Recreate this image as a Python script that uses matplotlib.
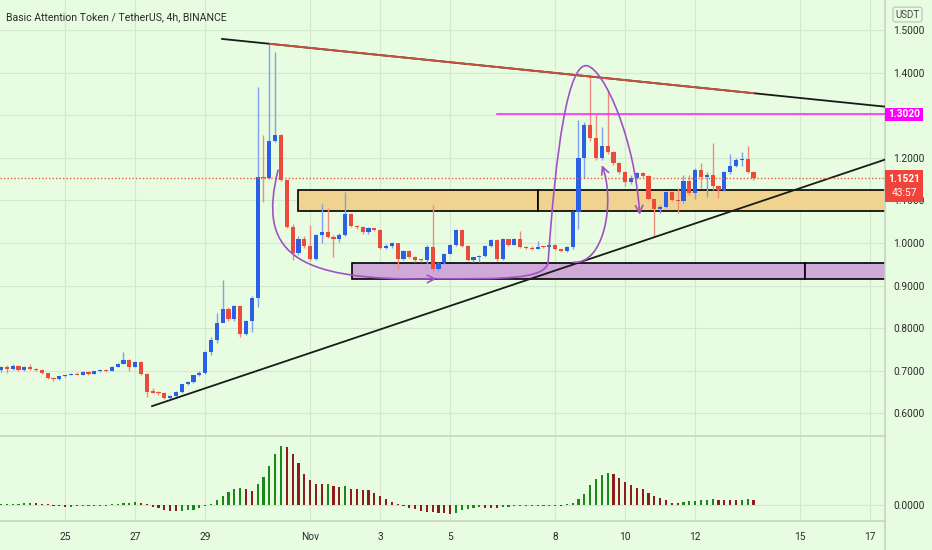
import numpy as np
import pandas as pd
import matplotlib
matplotlib.use('Agg')
import matplotlib.pyplot as plt
import matplotlib.dates as mdates
import matplotlib.transforms as mtrans
from matplotlib.patches import Rectangle, FancyArrowPatch
from matplotlib.path import Path
from matplotlib.lines import Line2D
from matplotlib.ticker import FormatStrFormatter, FuncFormatter

### DATA ######################################################################

title = 'Basic Attention Token / TetherUS, 4h, BINANCE'
start = '2021-10-23 04:00'
first_open = 0.701

closes = [0.709, 0.704, 0.712, 0.702, 0.709, 0.705, 0.702, 0.694, 0.682, 0.680,
          0.687, 0.690, 0.693, 0.691, 0.697, 0.693, 0.699, 0.702, 0.700, 0.710,
          0.717, 0.726, 0.710, 0.721, 0.693, 0.651, 0.649, 0.647, 0.635, 0.641,
          0.650, 0.668, 0.674, 0.689, 0.695, 0.744, 0.772, 0.813, 0.844, 0.822,
          0.851, 0.786, 0.817, 0.872, 1.156, 1.153, 1.240, 1.253, 1.147, 1.038,
          0.976, 1.009, 0.993, 0.962, 1.019, 1.025, 1.014, 1.009, 1.019, 1.068,
          1.041, 1.037, 1.025, 1.035, 1.031, 0.989, 0.994, 1.000, 0.963, 0.981,
          0.968, 0.961, 0.959, 0.990, 0.938, 0.953, 0.975, 0.995, 1.030, 0.994,
          0.960, 0.966, 0.970, 0.993, 1.008, 0.962, 1.010, 0.996, 1.010, 0.990,
          0.988, 0.986, 0.991, 0.990, 0.995, 0.985, 0.981, 0.990, 1.073, 1.199,
          1.277, 1.246, 1.200, 1.228, 1.214, 1.187, 1.166, 1.143, 1.152, 1.165,
          1.158, 1.104, 1.080, 1.085, 1.120, 1.102, 1.098, 1.145, 1.117, 1.172,
          1.156, 1.159, 1.134, 1.125, 1.167, 1.181, 1.195, 1.197, 1.167, 1.152]

highs = [0.712, 0.714, 0.715, 0.714, 0.711, 0.716, 0.707, 0.705, 0.695, 0.686,
         0.688, 0.691, 0.695, 0.696, 0.699, 0.699, 0.700, 0.704, 0.704, 0.712,
         0.719, 0.745, 0.728, 0.723, 0.724, 0.695, 0.660, 0.652, 0.650, 0.643,
         0.652, 0.670, 0.676, 0.691, 0.700, 0.746, 0.780, 0.835, 0.913, 0.850,
         0.855, 0.853, 0.820, 0.875, 1.365, 1.254, 1.469, 1.449, 1.256, 1.148,
         1.045, 1.017, 1.016, 1.042, 1.021, 1.092, 1.082, 1.019, 1.023, 1.119,
         1.070, 1.042, 1.040, 1.037, 1.036, 1.034, 0.998, 1.003, 1.001, 0.983,
         0.983, 0.970, 0.963, 0.996, 1.089, 0.955, 0.977, 0.997, 1.032, 1.031,
         0.996, 0.968, 0.971, 0.995, 1.010, 1.009, 1.012, 1.010, 1.012, 1.027,
         0.993, 0.992, 1.005, 0.994, 0.997, 0.997, 0.987, 0.993, 1.076, 1.289,
         1.285, 1.390, 1.300, 1.273, 1.359, 1.216, 1.189, 1.170, 1.160, 1.167,
         1.167, 1.160, 1.106, 1.090, 1.123, 1.122, 1.130, 1.160, 1.160, 1.175,
         1.188, 1.166, 1.235, 1.136, 1.170, 1.210, 1.200, 1.214, 1.227, 1.170]

lows = [0.698, 0.695, 0.701, 0.700, 0.700, 0.703, 0.700, 0.692, 0.680, 0.675,
        0.678, 0.686, 0.689, 0.689, 0.690, 0.690, 0.692, 0.698, 0.698, 0.699,
        0.709, 0.716, 0.700, 0.708, 0.690, 0.639, 0.647, 0.644, 0.633, 0.633,
        0.636, 0.647, 0.666, 0.672, 0.687, 0.692, 0.738, 0.765, 0.838, 0.818,
        0.818, 0.780, 0.783, 0.792, 0.850, 1.097, 1.150, 1.238, 1.145, 1.035,
        0.960, 0.971, 0.988, 0.958, 0.960, 0.999, 1.011, 0.967, 1.003, 1.016,
        1.038, 1.034, 1.022, 1.022, 1.029, 0.986, 0.985, 0.989, 0.938, 0.960,
        0.965, 0.955, 0.955, 0.950, 0.932, 0.935, 0.950, 0.973, 0.992, 0.990,
        0.958, 0.955, 0.955, 0.966, 0.990, 0.957, 0.960, 0.994, 0.995, 0.988,
        0.985, 0.984, 0.985, 0.988, 0.988, 0.983, 0.978, 0.978, 0.985, 1.032,
        1.152, 1.240, 1.195, 1.195, 1.210, 1.184, 1.163, 1.134, 1.138, 1.150,
        1.155, 1.100, 1.015, 1.070, 1.082, 1.098, 1.070, 1.095, 1.112, 1.104,
        1.129, 1.107, 1.125, 1.105, 1.123, 1.163, 1.178, 1.180, 1.165, 1.148]

# histogram panel, in thousandths
osc = [1.0, 1.0, 1.0, 1.5, 2.0, 2.5, 2.3, 1.2, 0.3, -0.8,
       -1.3, -1.5, -1.5, -1.4, -1.3, -1.2, -0.8, -0.5, -0.2, 0.6,
       1.5, 2.3, 2.4, 2.6, 1.8, 0.2, -1.5, -3.0, -4.5, -5.8,
       -6.2, -5.8, -5.3, -4.5, -3.2, -1.2, 1.5, 5.0, 9.0, 12.7,
       15.7, 16.7, 16.3, 14.3, 20.7, 27.7, 39.0, 51.3, 59.3, 57.7,
       51.3, 42.3, 31.0, 25.0, 21.2, 21.0, 21.2, 18.8, 18.2, 18.7,
       16.2, 15.8, 15.5, 14.7, 11.7, 9.3, 6.0, 3.3, 1.0, -1.0,
       -3.0, -4.3, -5.5, -6.5, -7.3, -8.0, -8.3, -9.0, -7.7, -5.2,
       -3.7, -2.8, -1.8, -2.7, -2.8, -2.9, -2.3, -1.7, -1.2, -0.8,
       -0.6, -0.5, -0.4, -0.3, -0.25, -0.2, -0.3, 0.3, 1.7, 5.7,
       10.7, 19.7, 25.7, 29.7, 32.3, 30.7, 26.7, 23.3, 20.3, 16.7,
       15.7, 12.3, 9.0, 7.0, 4.7, 2.3, 1.7, 3.0, 3.7, 4.3,
       4.7, 5.3, 5.7, 5.0, 4.9, 4.8, 4.6, 5.0, 5.6, 5.5]

price_ticks = [0.6, 0.7, 0.8, 0.9, 1.0, 1.1, 1.2, 1.3, 1.4, 1.5]
date_ticks = ['2021-10-25', '2021-10-27', '2021-10-29', '2021-11-01', '2021-11-03',
              '2021-11-05', '2021-11-08', '2021-11-10', '2021-11-12', '2021-11-15',
              '2021-11-17']
date_labels = ['25', '27', '29', 'Nov', '3', '5', '8', '10', '12', '15', '17']

last_price = 1.1521
countdown = '43:57'
resistance = 1.3020

# drawings, x in candle index units
upper_line = [(37.9, 1.479), (151.6, 1.320)]
upper_red = (46.1, 129.0)
lower_line = [(25.9, 0.617), (151.6, 1.196)]
res_start = 85.0
orange_zone = (50.9, 92.1, 1.075, 1.1244)
purple_zone = (60.2, 137.8, 0.916, 0.9538)
curve_a = [(47.5, 1.171), (44.1, 0.984), (49.5, 0.909), (74.7, 0.916)]
curve_b = [(74.7, 0.916), (85.5, 0.916), (93.3, 0.913), (93.8, 0.955),
           (95.1, 1.218), (97.2, 1.425), (100.5, 1.416),
           (103.5, 1.406), (108.7, 1.242), (109.5, 1.066)]
curve_c = [(98.1, 0.955), (103.5, 0.948), (105.3, 1.101), (103.0, 1.183)]

### STYLE #####################################################################

W, H = 932, 550
bg = '#e8fce2'
grid_c = '#d3e9cf'
sep_c = '#c4d6c0'
blue, blue_w = '#2b5fe6', '#7f9ff0'
red, red_w = '#ec4a3a', '#f08c7e'
green_h, red_h = '#178a17', '#8e1c1c'
purple = '#a052c4'
txt_c = '#2a2a2a'
plt.rcParams['font.family'] = ['Roboto', 'DejaVu Sans']

fig = plt.figure(figsize=(W / 100, H / 100), dpi=100, facecolor=bg)
ax = fig.add_axes([0, 114 / H, 885 / W, 436 / H], facecolor=bg)
ax2 = fig.add_axes([0, 29 / H, 885 / W, 84 / H], facecolor=bg, sharex=ax)

### CANDLES ###################################################################

t = pd.date_range(start, periods=len(closes), freq='4h')
x = mdates.date2num(t)
x0 = x[0]
step = 1 / 6.0


def xi(i):
    return x0 + np.asarray(i) * step


c = np.array(closes)
o = np.array([first_open] + closes[:-1])
up = c >= o
body_lo = np.minimum(o, c)
body_h = np.maximum(np.abs(c - o), 0.0025)
ax.vlines(x, lows, highs, colors=np.where(up, blue_w, red_w), lw=1, zorder=3)
ax.bar(x, body_h, bottom=body_lo, width=0.7 * step,
       color=np.where(up, blue, red), linewidth=0, zorder=4)

### DRAWINGS ##################################################################

# zones
for (xa, xb, ya, yb), fc in [(orange_zone, '#efd38f'), (purple_zone, '#cfa9d8')]:
    ax.add_patch(Rectangle((xi(xa), ya), xi(xb) - xi(xa), yb - ya, fc=fc,
                           ec='black', lw=1.2, zorder=2))
    ax.add_patch(Rectangle((xi(xb), ya), xi(170) - xi(xb), yb - ya, fc=fc,
                           ec='black', lw=1.2, zorder=2))

# trend lines
ux = np.array([p[0] for p in upper_line])
uy = np.array([p[1] for p in upper_line])
ax.plot(xi(ux), uy, color='#1a1a1a', lw=1.3, zorder=5)
ax.plot(xi(upper_red), np.interp(upper_red, ux, uy),
        color='#c8503e', lw=1.4, zorder=6)
ax.plot([xi(p[0]) for p in lower_line], [p[1] for p in lower_line],
        color='#1a1a1a', lw=1.3, zorder=5)

# resistance and last price
ax.plot([xi(res_start), xi(160)], [resistance, resistance], color='#ff1aff',
        lw=1.1, zorder=5)
ax.axhline(last_price, color='#ee5a3c', lw=1, ls=(0, (1, 1.5)), zorder=5)


# hand drawn arrows
def bez(pts):
    verts = [(xi(a), b) for a, b in pts]
    codes = [Path.MOVETO] + [Path.CURVE4] * (len(verts) - 1)
    return Path(verts, codes)


for pts in [curve_a, curve_b, curve_c]:
    ax.add_patch(FancyArrowPatch(path=bez(pts),
                                 arrowstyle='->,head_length=0.45,head_width=0.22',
                                 mutation_scale=12, color=purple, lw=1.2,
                                 transform=ax.transData, zorder=7))

### OSCILLATOR ################################################################

v = np.array(osc) * 0.001
prev = np.r_[v[0], v[:-1]]
vis = np.where(np.abs(v) < 0.0012, np.where(v < 0, -0.0012, 0.0012), v)
ax2.bar(x, vis, width=0.36 * step, color=np.where(v >= prev, green_h, red_h),
        linewidth=0, zorder=3)

### AXES ######################################################################

ax.set_xlim(xi(-0.17), xi(151.55))
ax.set_ylim(0.5469, 1.5704)
ax2.set_ylim(-0.016, 0.068)

ax.set_yticks(price_ticks)
ax2.set_yticks([0.0])
for a in (ax, ax2):
    a.yaxis.tick_right()
    a.yaxis.set_major_formatter(FormatStrFormatter('%.4f'))
    a.tick_params(axis='y', length=0, pad=6, labelsize=7.3, labelcolor=txt_c)
    a.grid(True, color=grid_c, lw=0.8, zorder=0)
    a.set_axisbelow(True)
    for s in ('top', 'left'):
        a.spines[s].set_visible(False)
    for s in ('right', 'bottom'):
        a.spines[s].set_color(sep_c)
        a.spines[s].set_linewidth(1.2)

# the 1.3000 label sits under the resistance tag
ax.yaxis.set_major_formatter(
    FuncFormatter(lambda val, pos: '' if abs(val - 1.3) < 1e-6 else '%.4f' % val))

ax2.set_xticks(mdates.date2num(pd.to_datetime(date_ticks)))
ax2.set_xticklabels(date_labels)
ax2.tick_params(axis='x', length=0, pad=8, labelsize=7.3, labelcolor=txt_c)
ax.tick_params(axis='x', length=0, labelbottom=False)
fig.add_artist(Line2D([885 / W, 885 / W], [0, 29 / H], color=sep_c, lw=1.2))

# title and price axis labels
ax.text(6 / 885, 1 - 17 / 436, title, transform=ax.transAxes, ha='left',
        va='center', fontsize=7.6, color=txt_c)
fig.text(907.5 / W, 1 - 14.5 / H, 'USDT', ha='center', va='center', fontsize=7,
         color='#444444',
         bbox=dict(boxstyle='round,pad=0.25', fc=bg, ec='#b8c4b6', lw=0.8))

bt = mtrans.blended_transform_factory(ax.transAxes, ax.transData)
bw = 38 / 885
ax.add_patch(Rectangle((1.0, resistance - 0.0149), bw, 0.0298, fc='#ff00ff',
                       ec='none', transform=bt, clip_on=False, zorder=10))
ax.text(1.0 + bw / 2, resistance, '%.4f' % resistance, transform=bt, ha='center',
        va='center', fontsize=7.3, color='white', fontweight='bold', zorder=11,
        clip_on=False)
ax.add_patch(Rectangle((1.0, 1.0969), bw, 1.1714 - 1.0969, fc='#f0443a',
                       ec='none', transform=bt, clip_on=False, zorder=10))
ax.text(1.0 + bw / 2, 1.150, '%.4f' % last_price, transform=bt, ha='center',
        va='center', fontsize=7.3, color='white', fontweight='bold', zorder=11,
        clip_on=False)
ax.text(1.0 + bw / 2, 1.117, countdown, transform=bt, ha='center',
        va='center', fontsize=7.3, color='white', zorder=11, clip_on=False)

fig.savefig('out.png', dpi=100, facecolor=bg)
